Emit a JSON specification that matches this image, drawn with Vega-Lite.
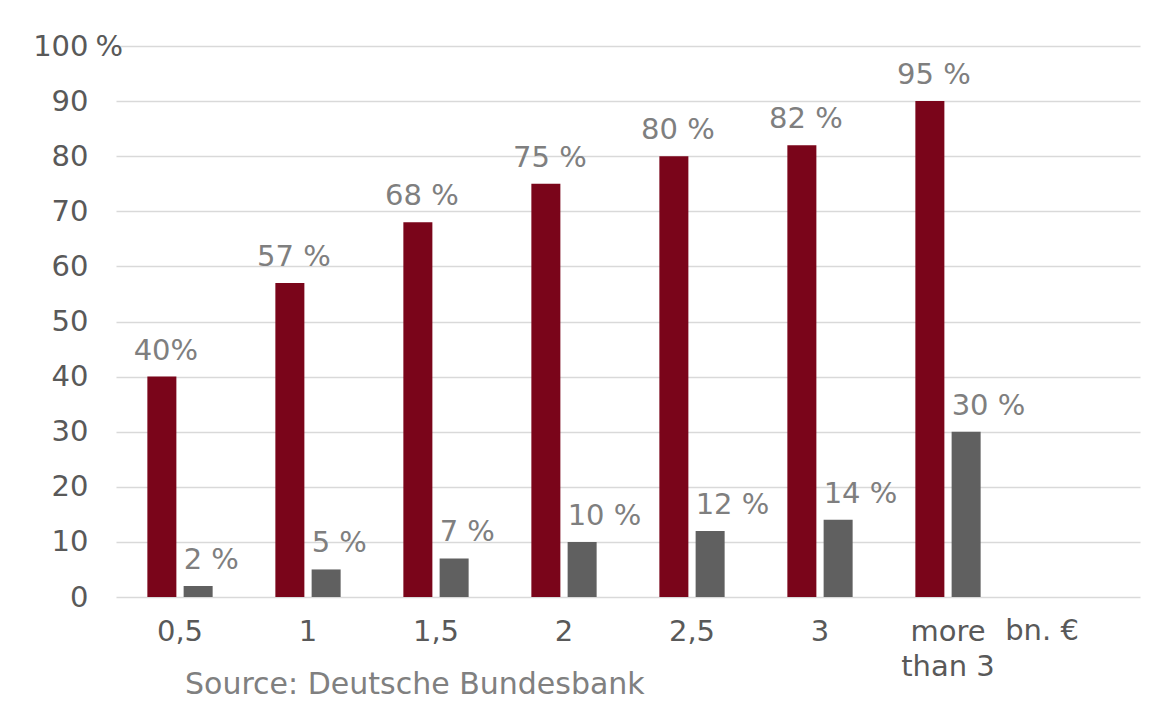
{
  "$schema": "https://vega.github.io/schema/vega-lite/v6.json",
  "width": 1024,
  "height": 551,
  "autosize": {"type": "none"},
  "padding": {"left": 116, "top": 46, "right": 18, "bottom": 105},
  "background": "white",
  "config": {"view": {"stroke": null}, "font": "DejaVu Sans"},
  "data": {
    "values": [
      {"cat": "0,5", "series": "a", "value": 40, "label": "40%"},
      {"cat": "1", "series": "a", "value": 57, "label": "57 %"},
      {"cat": "1,5", "series": "a", "value": 68, "label": "68 %"},
      {"cat": "2", "series": "a", "value": 75, "label": "75 %"},
      {"cat": "2,5", "series": "a", "value": 80, "label": "80 %"},
      {"cat": "3", "series": "a", "value": 82, "label": "82 %"},
      {"cat": "more than 3", "series": "a", "value": 90, "label": "95 %"},
      {"cat": "0,5", "series": "b", "value": 2, "label": "2 %"},
      {"cat": "1", "series": "b", "value": 5, "label": "5 %"},
      {"cat": "1,5", "series": "b", "value": 7, "label": "7 %"},
      {"cat": "2", "series": "b", "value": 10, "label": "10 %"},
      {"cat": "2,5", "series": "b", "value": 12, "label": "12 %"},
      {"cat": "3", "series": "b", "value": 14, "label": "14 %"},
      {"cat": "more than 3", "series": "b", "value": 30, "label": "30 %"}
    ]
  },
  "layer": [
    {
      "mark": {"type": "bar"},
      "encoding": {
        "x": {
          "field": "cat",
          "type": "nominal",
          "sort": null,
          "scale": {
            "domain": ["0,5", "1", "1,5", "2", "2,5", "3", "more than 3", " "],
            "paddingInner": 0.49,
            "paddingOuter": 0.245
          },
          "axis": {
            "title": null,
            "domain": false,
            "ticks": false,
            "grid": false,
            "labelAngle": 0,
            "labelFontSize": 29,
            "labelColor": "#595959",
            "labelPadding": 20,
            "labelLineHeight": 35,
            "labelExpr": "datum.value == 'more than 3' ? ['more', 'than 3'] : datum.label"
          }
        },
        "y": {
          "field": "value",
          "type": "quantitative",
          "scale": {"domain": [0, 100]},
          "axis": {
            "values": [0, 10, 20, 30, 40, 50, 60, 70, 80, 90, 100],
            "grid": true,
            "gridColor": "#d9d9d9",
            "gridWidth": 1.5,
            "domain": false,
            "ticks": false,
            "labelFontSize": 29,
            "labelColor": "#595959",
            "labelPadding": 28,
            "title": "%",
            "titleAngle": 0,
            "titleX": -21,
            "titleY": 0,
            "titleAlign": "left",
            "titleBaseline": "middle",
            "titleFontSize": 29,
            "titleFontWeight": "normal",
            "titleColor": "#595959"
          }
        },
        "xOffset": {
          "field": "series",
          "sort": ["a", "b"],
          "scale": {"paddingInner": 0.2, "paddingOuter": 0}
        },
        "color": {
          "field": "series",
          "scale": {"domain": ["a", "b"], "range": ["#7a051a", "#606060"]},
          "legend": null
        }
      }
    },
    {
      "transform": [{"filter": "datum.series == 'a'"}],
      "mark": {
        "type": "text",
        "fontSize": 29,
        "color": "#7f7f7f",
        "baseline": "alphabetic",
        "align": "center",
        "dx": 4,
        "dy": -17
      },
      "encoding": {
        "x": {"field": "cat", "type": "nominal", "sort": null},
        "y": {"field": "value", "type": "quantitative"},
        "xOffset": {"field": "series", "sort": ["a", "b"], "scale": {"domain": ["a", "b"]}},
        "text": {"field": "label"}
      }
    },
    {
      "transform": [{"filter": "datum.series == 'b'"}],
      "mark": {
        "type": "text",
        "fontSize": 29,
        "color": "#7f7f7f",
        "baseline": "alphabetic",
        "align": "left",
        "dx": -14.5,
        "dy": -17
      },
      "encoding": {
        "x": {"field": "cat", "type": "nominal", "sort": null},
        "y": {"field": "value", "type": "quantitative"},
        "xOffset": {"field": "series", "sort": ["a", "b"], "scale": {"domain": ["a", "b"]}},
        "text": {"field": "label"}
      }
    },
    {
      "data": {"values": [{"t": "bn. €"}]},
      "mark": {
        "type": "text",
        "fontSize": 29,
        "color": "#595959",
        "baseline": "alphabetic",
        "align": "center",
        "dx": -34,
        "dy": 43
      },
      "encoding": {
        "x": {"datum": " "},
        "y": {"datum": 0},
        "text": {"field": "t"}
      }
    },
    {
      "data": {"values": [{"t": "Source: Deutsche Bundesbank"}]},
      "mark": {
        "type": "text",
        "fontSize": 30,
        "color": "#808080",
        "baseline": "alphabetic",
        "align": "left",
        "dx": 5,
        "dy": 97
      },
      "encoding": {
        "x": {"datum": "0,5"},
        "y": {"datum": 0},
        "text": {"field": "t"}
      }
    }
  ]
}
